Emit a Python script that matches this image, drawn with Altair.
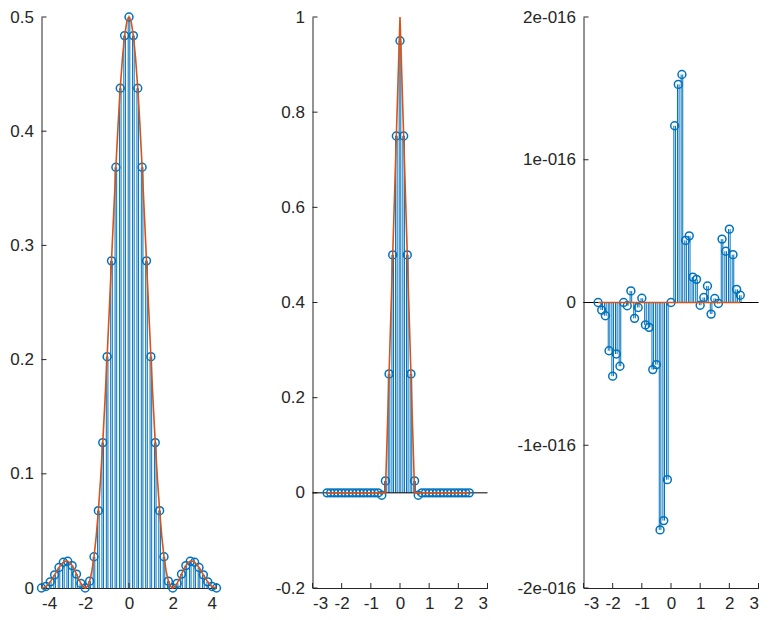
import altair as alt
import pandas as pd

BLUE = "#0072BD"
ORANGE = "#D95319"
AX = "#262626"
FONT = "Liberation Sans"

# ---------------- Panel 1 ----------------
p1_x = [-4.0, -3.8, -3.6, -3.4, -3.2, -3.0, -2.8, -2.6, -2.4, -2.2, -2.0,
        -1.8, -1.6, -1.4, -1.2, -1.0, -0.8, -0.6, -0.4, -0.2, 0.0,
        0.2, 0.4, 0.6, 0.8, 1.0, 1.2, 1.4, 1.6, 1.8, 2.0,
        2.2, 2.4, 2.6, 2.8, 3.0, 3.2, 3.4, 3.6, 3.8, 4.0]
p1_y = [0.0, 0.0013, 0.0054, 0.0115, 0.0179, 0.0225, 0.0234, 0.0196, 0.0122, 0.0040, 0.0,
        0.0060, 0.0274, 0.0677, 0.1273, 0.2026, 0.2865, 0.3684, 0.4376, 0.4837, 0.5,
        0.4837, 0.4376, 0.3684, 0.2865, 0.2026, 0.1273, 0.0677, 0.0274, 0.0060, 0.0,
        0.0040, 0.0122, 0.0196, 0.0234, 0.0225, 0.0179, 0.0115, 0.0054, 0.0013, 0.0]

p1_cx = [-4.0, -3.9, -3.8, -3.7, -3.6, -3.5, -3.4, -3.3, -3.2, -3.1, -3.0,
         -2.9, -2.8, -2.7, -2.6, -2.5, -2.4, -2.3, -2.2, -2.1, -2.0,
         -1.9, -1.8, -1.7, -1.6, -1.5, -1.4, -1.3, -1.2, -1.1, -1.0,
         -0.9, -0.8, -0.7, -0.6, -0.5, -0.4, -0.3, -0.2, -0.1, 0.0,
         0.1, 0.2, 0.3, 0.4, 0.5, 0.6, 0.7, 0.8, 0.9, 1.0,
         1.1, 1.2, 1.3, 1.4, 1.5, 1.6, 1.7, 1.8, 1.9, 2.0,
         2.1, 2.2, 2.3, 2.4, 2.5, 2.6, 2.7, 2.8, 2.9, 3.0,
         3.1, 3.2, 3.3, 3.4, 3.5, 3.6, 3.7, 3.8, 3.9, 4.0]
p1_cy = [0.0, 0.0003, 0.0013, 0.0031, 0.0054, 0.0083, 0.0115, 0.0148, 0.0179, 0.0206, 0.0225,
         0.0235, 0.0234, 0.0221, 0.0196, 0.0162, 0.0122, 0.0079, 0.0040, 0.0011, 0.0,
         0.0014, 0.0060, 0.0145, 0.0274, 0.0450, 0.0677, 0.0952, 0.1273, 0.1634, 0.2026,
         0.2441, 0.2865, 0.3283, 0.3684, 0.4053, 0.4376, 0.4641, 0.4837, 0.4959, 0.5,
         0.4959, 0.4837, 0.4641, 0.4376, 0.4053, 0.3684, 0.3283, 0.2865, 0.2441, 0.2026,
         0.1634, 0.1273, 0.0952, 0.0677, 0.0450, 0.0274, 0.0145, 0.0060, 0.0014, 0.0,
         0.0011, 0.0040, 0.0079, 0.0122, 0.0162, 0.0196, 0.0221, 0.0234, 0.0235, 0.0225,
         0.0206, 0.0179, 0.0148, 0.0115, 0.0083, 0.0054, 0.0031, 0.0013, 0.0003, 0.0]

p1_xticks = [-4, -2, 0, 2, 4]
p1_yticks = [0, 0.1, 0.2, 0.3, 0.4, 0.5]

# ---------------- Panel 2 ----------------
n_x = [-2.5, -2.375, -2.25, -2.125, -2.0, -1.875, -1.75, -1.625, -1.5, -1.375,
       -1.25, -1.125, -1.0, -0.875, -0.75, -0.625, -0.5, -0.375, -0.25, -0.125,
       0.0, 0.125, 0.25, 0.375, 0.5, 0.625, 0.75, 0.875, 1.0, 1.125,
       1.25, 1.375, 1.5, 1.625, 1.75, 1.875, 2.0, 2.125, 2.25, 2.375]
p2_y = [0, 0, 0, 0, 0, 0, 0, 0, 0, 0,
        0, 0, 0, 0, 0, -0.005, 0.025, 0.25, 0.5, 0.75,
        0.95, 0.75, 0.5, 0.25, 0.025, -0.005, 0, 0, 0, 0,
        0, 0, 0, 0, 0, 0, 0, 0, 0, 0]
p2_cx = [-2.5, -0.5, 0.0, 0.5, 2.375]
p2_cy = [0.0, 0.0, 1.0, 0.0, 0.0]
p2_xticks = [-3, -2, -1, 0, 1, 2, 3]
p2_yticks = [-0.2, 0, 0.2, 0.4, 0.6, 0.8, 1]

# ---------------- Panel 3 (values in units of 1e-16) ----------------
p3_y = [0.0, -0.053, -0.093, -0.338, -0.516, -0.361, -0.447, 0.0, -0.023, 0.081,
        -0.111, -0.035, 0.030, -0.157, -0.174, -0.470, -0.435, -1.593, -1.528, -1.241,
        0.0, 1.238, 1.528, 1.597, 0.435, 0.467, 0.178, 0.162, -0.019, 0.035,
        0.116, -0.081, 0.028, -0.007, 0.444, 0.359, 0.514, 0.335, 0.092, 0.051]
p3_cx = [-2.5, 2.375]
p3_cy = [0.0, 0.0]
p3_xticks = [-3, -2, -1, 0, 1, 2, 3]
p3_yticks = [-2, -1, 0, 1, 2]

W = 175
H = 571


def panel(sx, sy, cx, cy, xdom, ydom, xticks, yticks, ylabel_expr, baseline):
    stems = pd.DataFrame({"x": sx, "y": sy})
    curve = pd.DataFrame({"x": cx, "y": cy})
    xs = alt.Scale(domain=xdom, nice=False, zero=False)
    ys = alt.Scale(domain=ydom, nice=False, zero=False)
    axis_common = dict(title=None, grid=False, ticks=False, domainColor=AX,
                       domainWidth=1, labelColor=AX, labelFont=FONT,
                       labelFontSize=17, labelOverlap=False)
    xa = alt.Axis(values=xticks, labelExpr="'' + datum.value", labelPadding=7, **axis_common)
    ya = alt.Axis(values=yticks, labelExpr=ylabel_expr, labelPadding=8, **axis_common)

    def X():
        return alt.X("x:Q", scale=xs, axis=xa)

    def Y():
        return alt.Y("y:Q", scale=ys, axis=ya)

    base = alt.Chart(stems)
    rules_a = base.mark_rule(color=BLUE, strokeWidth=1, xOffset=-0.8).encode(
        x=X(), y=Y(), y2=alt.datum(0))
    rules_b = base.mark_rule(color=BLUE, strokeWidth=1, xOffset=0.8).encode(
        x=X(), y=Y(), y2=alt.datum(0))
    pts = base.mark_point(shape="circle", filled=False, color=BLUE, size=62,
                          strokeWidth=1.5, opacity=1).encode(x=X(), y=Y())
    line = alt.Chart(curve).mark_line(color=ORANGE, strokeWidth=1.6).encode(x=X(), y=Y())
    ytk = alt.Chart(pd.DataFrame({"y": yticks})).mark_rule(color=AX, strokeWidth=1).encode(
        y=Y(), x=alt.value(0), x2=alt.value(5))
    xtk = alt.Chart(pd.DataFrame({"x": xticks})).mark_rule(color=AX, strokeWidth=1).encode(
        x=X(), y=alt.value(H), y2=alt.value(H - 5))
    layers = [rules_a, rules_b, ytk, xtk]
    if baseline:
        bl = alt.Chart(pd.DataFrame({"y": [0]})).mark_rule(color="black", strokeWidth=1).encode(
            y=Y(), x=alt.value(0), x2=alt.value(W))
        layers.append(bl)
    layers += [pts, line]
    return alt.layer(*layers).properties(width=W, height=H)


plain = "'' + datum.value"
c1 = panel(p1_x, p1_y, p1_cx, p1_cy, [-4, 4], [0, 0.5], p1_xticks, p1_yticks, plain, False)
c2 = panel(n_x, p2_y, p2_cx, p2_cy, [-3, 3], [-0.2, 1], p2_xticks, p2_yticks, plain, True)
c3 = panel(n_x, p3_y, p3_cx, p3_cy, [-3, 3], [-2, 2], p3_xticks, p3_yticks,
           "datum.value == 0 ? '0' : datum.value + 'e-016'", True)

chart = alt.hconcat(c1, c2, c3, spacing=96, bounds="flush").properties(
    padding={"left": 1.5, "top": 0, "right": 0, "bottom": 0}
).configure_view(stroke=None)

chart.save("out.html", embed_options={"renderer": "svg", "actions": False})
